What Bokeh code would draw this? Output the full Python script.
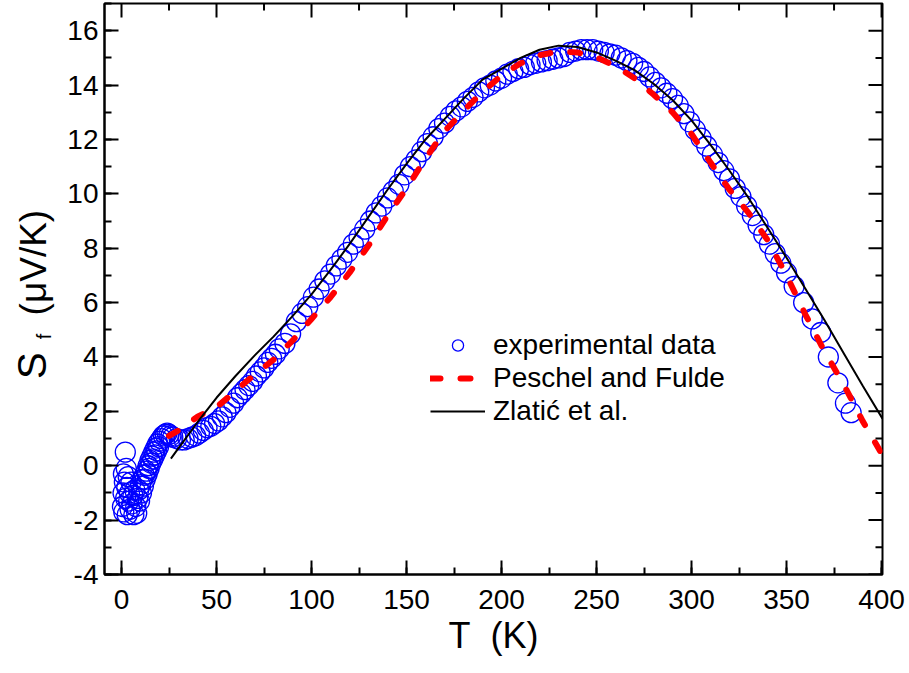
import math
from bokeh.plotting import figure
from bokeh.layouts import row
from bokeh.models import (Range1d, SingleIntervalTicker, Legend, LegendItem, CustomJSTickFormatter)
from bokeh.core.properties import value
from bokeh.embed import file_html
from bokeh.resources import INLINE

# ---- data ----
exp_T = [0.5, 0.8, 1.0, 1.2, 1.5, 2.0, 2.2, 2.5, 2.8, 3.0, 3.5, 3.8, 4.2, 4.5, 5.0, 5.5, 6.0, 6.5, 7.0, 7.5,
         8.0, 8.5, 9.0, 9.5, 10, 10.5, 11, 11.5, 12, 12.5, 13, 13.5, 14, 14.5, 15, 15.5, 16, 16.5, 17, 17.5,
         18, 18.5, 19, 19.5, 20, 21, 22, 23, 24, 25, 26, 27, 29, 31, 33, 35, 37, 39, 41, 43, 45, 47, 49,
         51, 53, 55, 57, 59, 61, 63, 65, 67, 69, 71, 73, 75, 77, 79, 81, 83, 86, 89, 92, 95, 98, 101, 104,
         107, 110, 113, 116, 119, 122, 125, 128, 131, 134, 137, 140, 143, 146, 149, 152, 155, 158, 161,
         164, 167, 170, 173, 176, 179, 182, 185, 188, 191, 194, 197, 200, 203, 206, 209, 212, 215, 218,
         221, 224, 227, 230, 233, 236, 239, 242, 245, 248, 251, 254, 257, 260, 263, 266, 269, 272, 275,
         278, 281, 284, 287, 290, 293, 296, 299, 302, 305, 308, 311, 314, 317, 320, 323, 326, 329, 332,
         335, 338, 341, 344, 347, 350, 354, 359, 363.5, 368, 372, 377, 381, 384]
exp_S = [-1.5, -1.0, -0.3, -1.7, -0.6, 0.5, -1.2, -0.1, -0.8, -1.8, -0.4, -1.3, -1.0, -1.6, -0.6, -1.4,
         -1.1, -1.8, -0.9, -1.5, -1.75, -1.2, -0.9, -1.3, -0.7, -1.0, -0.5, -0.75, -0.35, -0.5, -0.2, -0.3,
         0.0, -0.1, 0.2, 0.1, 0.35, 0.25, 0.5, 0.4, 0.65, 0.55, 0.8, 0.7, 0.9, 1.0, 1.1, 1.15, 1.2, 1.15,
         1.1, 1.05, 1.0, 0.95, 0.95, 1.0, 1.05, 1.1, 1.2, 1.3, 1.4, 1.45, 1.55, 1.65, 1.8, 1.95, 2.15, 2.3,
         2.5, 2.65, 2.8, 2.95, 3.1, 3.3, 3.45, 3.6, 3.8, 3.95, 4.1, 4.3, 4.5, 4.85, 5.3, 5.6, 5.85, 6.2,
         6.5, 6.8, 7.05, 7.35, 7.6, 7.85, 8.15, 8.4, 8.7, 9.0, 9.3, 9.55, 9.85, 10.1, 10.35, 10.7, 11.0,
         11.25, 11.55, 11.85, 12.1, 12.4, 12.6, 12.85, 13.05, 13.2, 13.4, 13.55, 13.75, 13.9, 14.0, 14.15,
         14.25, 14.4, 14.5, 14.6, 14.65, 14.75, 14.8, 14.85, 14.9, 14.95, 15.0, 15.05, 15.2, 15.25, 15.3,
         15.3, 15.3, 15.25, 15.2, 15.15, 15.1, 15.0, 14.9, 14.8, 14.65, 14.5, 14.3, 14.1, 13.9, 13.7, 13.5,
         13.25, 12.95, 12.65, 12.35, 12.05, 11.75, 11.45, 11.15, 10.85, 10.55, 10.2, 9.9, 9.55, 9.2, 8.85,
         8.5, 8.15, 7.8, 7.45, 7.1, 6.6, 6.0, 5.4, 4.9, 4.0, 3.05, 2.3, 1.95]

pf_T = [25, 30, 40, 50, 60, 70, 80, 90, 100, 110, 120, 130, 140, 150, 160, 170, 180, 190, 200, 210,
        220, 230, 240, 250, 260, 270, 280, 290, 300, 310, 320, 330, 340, 350, 360, 370, 380, 390, 400]
pf_S = [1.1, 1.3, 1.8, 2.15, 2.75, 3.35, 3.9, 4.6, 5.4, 6.2, 7.1, 8.1, 9.2, 10.2, 11.3, 12.3, 13.05,
        13.75, 14.35, 14.8, 15.1, 15.24, 15.2, 15.02, 14.7, 14.25, 13.65, 13.0, 12.2, 11.15, 10.15, 9.3,
        8.3, 7.0, 5.55, 4.2, 3.0, 1.65, 0.45]

zl_T = [26, 30, 40, 50, 60, 70, 80, 90, 100, 110, 120, 130, 140, 150, 160, 170, 180, 190, 200, 210,
        220, 230, 240, 250, 260, 270, 280, 290, 300, 310, 320, 330, 340, 350, 360, 370, 380, 390, 400.5]
zl_S = [0.26, 0.65, 1.6, 2.5, 3.3, 4.05, 4.75, 5.5, 6.3, 7.2, 8.15, 9.15, 10.15, 11.1, 12.0, 12.75, 13.5,
        14.2, 14.6, 15.0, 15.3, 15.45, 15.4, 15.2, 14.9, 14.55, 14.05, 13.45, 12.7, 11.8, 10.85, 9.85,
        8.75, 7.65, 6.5, 5.35, 4.15, 2.95, 1.73]

x_major_ticks = list(range(0, 401, 50))
x_minor_ticks = list(range(25, 400, 50))
y_major_ticks = list(range(-4, 17, 2))
y_minor_ticks = list(range(-3, 17, 2))
legend_labels = ["experimental data", "Peschel and Fulde", "Zlatić et al."]
x_title = "T\u00a0 (K)"
y_title_parts = ["S", "f", "(μV/K)"]

FONT = "Liberation Sans"
X0, X1 = -8.95, 400.5
Y0, Y1 = -4.0, 17.0

W, H = 907, 671
LW = 62          # width of the y-title panel
FRAME_L, FRAME_R, FRAME_T, FRAME_B = 104, 882, 3, 574

# ---- main plot ----
p = figure(width=W - LW, height=H, output_backend="svg", toolbar_location=None,
           x_range=Range1d(X0, X1), y_range=Range1d(Y0, Y1),
           min_border_left=FRAME_L - LW, min_border_right=W - FRAME_R,
           min_border_top=FRAME_T, min_border_bottom=H - FRAME_B)
p.xgrid.visible = False
p.ygrid.visible = False
p.outline_line_color = "black"
p.outline_line_width = 2

# ---- y-axis title panel (shares the y scale, frames aligned by the row) ----
ttl = figure(width=LW, height=H, output_backend="svg", toolbar_location=None,
             x_range=Range1d(0, LW), y_range=p.y_range, min_border=0)
ttl.axis.visible = False
ttl.xgrid.visible = False
ttl.ygrid.visible = False
ttl.outline_line_color = None
ttl.text(x=[31], y=[3.68], text=[y_title_parts[0]], angle=math.pi / 2, text_align="center",
         text_baseline="middle", text_font=value(FONT), text_font_size="40px", text_color="black")
ttl.text(x=[43], y=[4.75], text=[y_title_parts[1]], angle=math.pi / 2, text_align="center",
         text_baseline="middle", text_font=value(FONT), text_font_size="20px", text_color="black")
ttl.text(x=[33], y=[7.47], text=[y_title_parts[2]], angle=math.pi / 2, text_align="center",
         text_baseline="middle", text_font=value(FONT), text_font_size="37px", text_color="black")

r_exp = p.scatter(exp_T, exp_S, marker="circle", size=20, fill_color=None,
                  line_color="#0000ff", line_width=1.3)
r_pf = p.line(pf_T, pf_S, line_color="#ff0000", line_width=6, line_dash="10 20",
              line_cap="round", line_join="round")
r_zl = p.line(zl_T, zl_S, line_color="black", line_width=2)

fmt = CustomJSTickFormatter(code="return tick.toString();")
for ax, ivl in ((p.xaxis[0], 50), (p.yaxis[0], 2)):
    ax.ticker = SingleIntervalTicker(interval=ivl, num_minor_ticks=2)
    ax.formatter = fmt
    ax.axis_line_width = 2
    ax.major_tick_line_width = 2
    ax.minor_tick_line_width = 2
    ax.major_tick_in = 14
    ax.major_tick_out = 0
    ax.minor_tick_in = 7
    ax.minor_tick_out = 0
    ax.major_label_text_font = FONT
    ax.major_label_text_font_size = "28px"
    ax.major_label_text_color = "black"
p.xaxis.major_label_standoff = 15
p.yaxis.major_label_standoff = 6
p.xaxis.axis_label = x_title
p.xaxis.axis_label_text_font = FONT
p.xaxis.axis_label_text_font_size = "36px"
p.xaxis.axis_label_text_font_style = "normal"
p.xaxis.axis_label_text_color = "black"
p.xaxis.axis_label_standoff = 3

# ticks on the top and right frame edges (inward)
p.ray(x=x_major_ticks, y=[Y1] * len(x_major_ticks), length=14, length_units="screen",
      angle=-math.pi / 2, line_color="black", line_width=2)
p.ray(x=x_minor_ticks, y=[Y1] * len(x_minor_ticks), length=7, length_units="screen",
      angle=-math.pi / 2, line_color="black", line_width=2)
p.ray(x=[X1] * len(y_major_ticks), y=y_major_ticks, length=14, length_units="screen",
      angle=math.pi, line_color="black", line_width=2)
p.ray(x=[X1] * len(y_minor_ticks), y=y_minor_ticks, length=7, length_units="screen",
      angle=math.pi, line_color="black", line_width=2)

legend = Legend(items=[LegendItem(label=legend_labels[0], renderers=[r_exp]),
                       LegendItem(label=legend_labels[1], renderers=[r_pf]),
                       LegendItem(label=legend_labels[2], renderers=[r_zl])],
                location=(326, 147), glyph_width=55, glyph_height=28, label_height=28,
                spacing=1, padding=0, margin=0, label_standoff=8,
                label_text_font=FONT, label_text_font_size="28px", label_text_color="black",
                border_line_color=None, background_fill_alpha=0)
p.add_layout(legend, "center")

layout = row(ttl, p)
open("out.html", "w").write(file_html(layout, INLINE))
